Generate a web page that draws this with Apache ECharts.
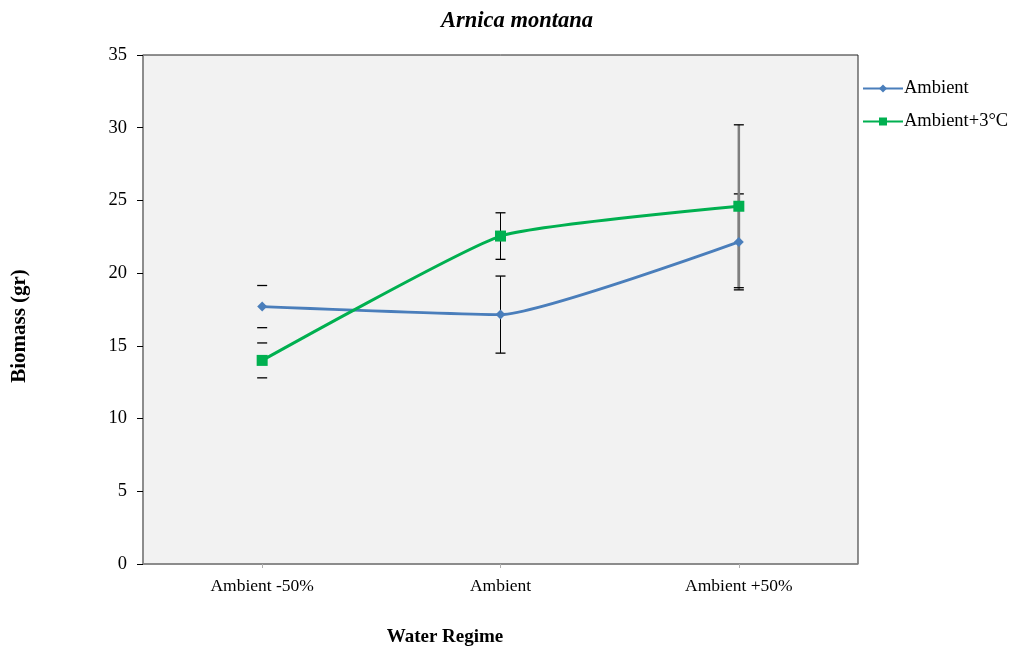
<!DOCTYPE html>
<html>
<head>
<meta charset="utf-8">
<script src="https://cdn.jsdelivr.net/npm/echarts@6/dist/echarts.min.js"></script>
<style>
  html, body { margin: 0; padding: 0; background: #fff; }
  #chart { width: 1014px; height: 648px; }
</style>
</head>
<body>
<div id="chart"></div>
<script>
// Water regime treatments
const categories = ['Ambient -50%', 'Ambient', 'Ambient +50%'];

// Mean biomass (gr) per treatment
const ambient = [17.7, 17.15, 22.15];
const ambientPlus3 = [14.0, 22.55, 24.6];

// Error bar half-widths (gr)
const ambientErr = [1.45, 2.65, 3.3];
const ambientPlus3Err = [1.2, 1.6, 5.6];

// Y axis range
const yMin = 0, yMax = 35, yStep = 5;

const serif = 'Liberation Serif';

function errorData(means, errs) {
  return means.map((m, i) => [i, m - errs[i], m + errs[i]]);
}

function renderError(params, api) {
  const i = api.value(0);
  const lo = api.coord([i, api.value(1)]);
  const hi = api.coord([i, api.value(2)]);
  const half = 5;
  const children = [];
  // the first treatment shows only the caps; the last one has a heavier grey stem
  if (i !== 0) {
    children.push({
      type: 'line',
      shape: { x1: lo[0], y1: lo[1], x2: hi[0], y2: hi[1] },
      style: { stroke: i === 2 ? '#7f7f7f' : '#000', lineWidth: i === 2 ? 2.5 : 1 }
    });
  }
  children.push({
    type: 'line',
    shape: { x1: lo[0] - half, y1: lo[1], x2: lo[0] + half, y2: lo[1] },
    style: { stroke: '#000', lineWidth: 1.3 }
  });
  children.push({
    type: 'line',
    shape: { x1: hi[0] - half, y1: hi[1], x2: hi[0] + half, y2: hi[1] },
    style: { stroke: '#000', lineWidth: 1.3 }
  });
  return { type: 'group', children };
}

const chart = echarts.init(document.getElementById('chart'), null, { renderer: 'canvas' });

chart.setOption({
  animation: false,
  title: {
    text: 'Arnica montana',
    left: 512,
    textAlign: 'center',
    top: 5,
    textStyle: { fontFamily: serif, fontStyle: 'italic', fontWeight: 'bold', fontSize: 22.5, color: '#000' }
  },
  legend: {
    orient: 'vertical',
    left: 862,
    top: 79,
    padding: 0,
    itemWidth: 40,
    itemHeight: 10,
    itemGap: 14,
    data: ['Ambient', 'Ambient+3°C'],
    textStyle: { fontFamily: serif, fontSize: 18.5, color: '#000', padding: [0, 0, 0, -4] }
  },
  grid: {
    left: 143, top: 55, right: 156, bottom: 84,
    show: true,
    backgroundColor: '#f2f2f2',
    borderColor: '#222',
    borderWidth: 1
  },
  xAxis: {
    type: 'category',
    data: categories,
    boundaryGap: true,
    axisLine: { lineStyle: { color: '#8c8c8c', width: 1.5 } },
    axisTick: { show: true, alignWithLabel: true, length: 4, lineStyle: { color: '#b0b0b0' } },
    axisLabel: { fontFamily: serif, fontSize: 17.5, color: '#000', margin: 13 }
  },
  yAxis: {
    type: 'value',
    min: yMin, max: yMax, interval: yStep,
    axisLine: { show: true, lineStyle: { color: '#8c8c8c', width: 1.5 } },
    axisTick: { show: true, length: 6, lineStyle: { color: '#000' } },
    splitLine: { show: false },
    axisLabel: { fontFamily: serif, fontSize: 18.5, color: '#000', margin: 16 }
  },
  graphic: [
    {
      type: 'text',
      x: 20, y: 326,
      rotation: Math.PI / 2,
      style: {
        text: 'Biomass (gr)', fontFamily: serif, fontWeight: 'bold', fontSize: 21,
        fill: '#000', align: 'center', verticalAlign: 'middle'
      }
    },
    {
      type: 'text',
      x: 445, y: 637,
      style: {
        text: 'Water Regime', fontFamily: serif, fontWeight: 'bold', fontSize: 19,
        fill: '#000', align: 'center', verticalAlign: 'middle'
      }
    }
  ],
  series: [
    {
      name: 'Ambient',
      type: 'line',
      data: ambient,
      smooth: 0.15,
      symbol: 'diamond',
      symbolSize: 10,
      lineStyle: { color: '#4a7ebb', width: 2.8 },
      itemStyle: { color: '#4a7ebb' },
      z: 3
    },
    {
      name: 'Ambient+3°C',
      type: 'line',
      data: ambientPlus3,
      smooth: 0.15,
      symbol: 'rect',
      symbolSize: 11,
      lineStyle: { color: '#00b050', width: 3 },
      itemStyle: { color: '#00b050' },
      z: 3
    },
    {
      type: 'custom',
      renderItem: renderError,
      data: errorData(ambient, ambientErr),
      encode: { x: 0, y: [1, 2] },
      z: 2
    },
    {
      type: 'custom',
      renderItem: renderError,
      data: errorData(ambientPlus3, ambientPlus3Err),
      encode: { x: 0, y: [1, 2] },
      z: 2
    }
  ]
});
</script>
</body>
</html>
